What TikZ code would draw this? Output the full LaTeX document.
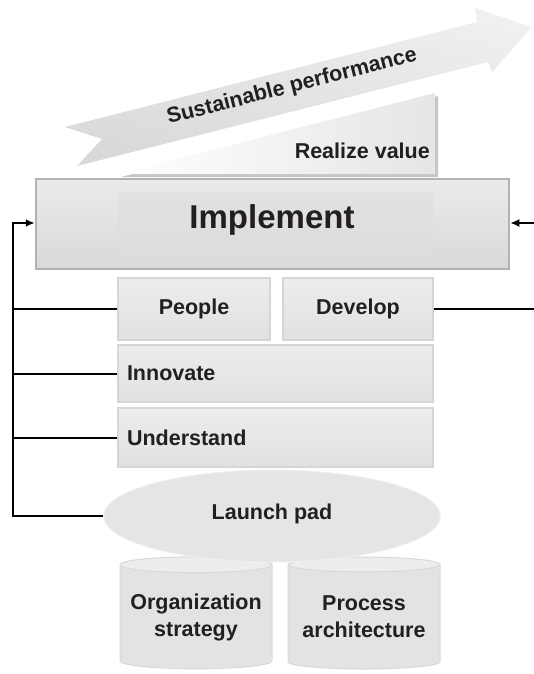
\documentclass[tikz,border=0pt]{standalone}
\usepackage{fontspec}
\setmainfont{Liberation Sans}
\usepackage{tikz}
\usetikzlibrary{arrows.meta, shapes.geometric}

\definecolor{ink}{HTML}{231F20}

\begin{document}
\begin{tikzpicture}[
  x=1pt, y=-1pt,
  every node/.style={font=\bfseries\fontsize{21.5}{27}\selectfont, text=ink, inner sep=0pt},
  slab/.style={rectangle, draw=gray!32, line width=1.2pt, top color=gray!14, bottom color=gray!24},
  feedline/.style={line width=2pt, black},
  feedtip/.style={-{Latex[length=9pt, width=8pt]}},
  drum/.style={cylinder, shape border rotate=90, aspect=0.12, draw=gray!30, line width=1pt,
    cylinder uses custom fill, cylinder body fill=gray!22, cylinder end fill=gray!14,
    minimum width=152pt, minimum height=112pt, align=center}
]
  \useasboundingbox (0,0) rectangle (533,674);

  % rising arrow
  \path[top color=gray!12, bottom color=gray!30, shading angle=-14]
    (65,127) -- (477,22) -- (475,8) -- (532,27) -- (492,72) -- (488,62)
    -- (77,166) -- (102,139) -- cycle;
  \node[rotate=14.2] (sustain) at (292,87) {Sustainable performance};

  % value wedge
  \fill[gray!45] (121,177) -- (438,96) -- (438,177) -- cycle;
  \path[left color=white, right color=gray!20] (118,174) -- (435,93) -- (435,174) -- cycle;
  \node[anchor=east] (value) at (430,151) {Realize value};

  % implement block
  \node[rectangle, draw=gray!60, line width=2.5pt, top color=gray!16, bottom color=gray!30,
    minimum width=473pt, minimum height=90pt] (impl) at (272.5,224) {};
  \node[rectangle, fill=gray!26, fill opacity=0.6, minimum width=315pt, minimum height=60pt] (core) at (275.5,222) {};
  \node[font=\bfseries\fontsize{33}{40}\selectfont] (impltext) at (272,220) {Implement};

  \node[slab, minimum width=152pt, minimum height=62pt] (people) at (194,309) {People};
  \node[slab, minimum width=150pt, minimum height=62pt] (develop) at (358,309) {Develop};
  \node[slab, minimum width=315pt, minimum height=57pt, text width=297pt, align=left] (innovate) at (275.5,373.5) {Innovate};
  \node[slab, minimum width=315pt, minimum height=59pt, text width=297pt, align=left] (understand) at (275.5,437.5) {Understand};

  % base
  \node[drum] (orgstrat) at (196,617) {Organization\\strategy};
  \node[drum] (procarch) at (364,617) {Process\\architecture};
  \node[ellipse, fill=gray!20, draw=gray!12, line width=1pt, minimum width=337pt, minimum height=92pt] (lpad) at (272,516) {};
  \node (lpadtext) at (272,514) {Launch pad};

  % feedback lines
  \coordinate (lbend) at (13,223);
  \coordinate (rbend) at (545,223);
  \draw[feedline, feedtip] (lpad.west) -| (lbend) -- (impl.west |- lbend);
  \draw[feedline] (people.west) -- (people.west -| lbend);
  \draw[feedline] (innovate.west) -- (innovate.west -| lbend);
  \draw[feedline] (understand.west) -- (understand.west -| lbend);
  \draw[feedline, feedtip] (develop.east) -| (rbend) -- (impl.east |- rbend);
\end{tikzpicture}
\end{document}
